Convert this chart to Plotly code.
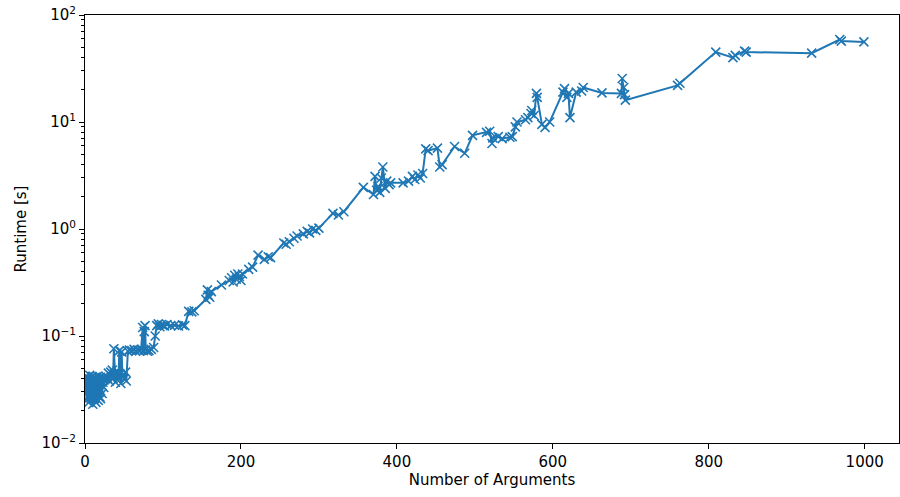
import plotly.graph_objects as go

n_args = [
    1, 1, 2, 2, 3, 3, 4, 4, 5, 5, 6, 6, 7, 7, 8, 8, 9, 9, 10, 10,
    11, 11, 12, 12, 13, 13, 14, 14, 15, 15, 16, 16, 17, 17, 18, 18, 19, 19, 20, 20,
    21, 22, 22, 23, 24, 24, 25,
    27, 29, 30, 31, 33, 34, 35, 36, 37, 38, 39, 40, 41, 42, 43, 44, 45, 46, 47, 48,
    50, 52, 53, 55, 57, 60, 63, 65, 68, 70, 72, 74, 75, 76, 77, 78, 80, 82, 85, 88,
    90, 92, 94, 96, 98, 100, 102, 105, 110, 115, 120, 125, 128, 133, 137, 140,
    155, 157, 158, 160, 162, 175, 185, 188, 190, 192, 194, 196, 198, 200, 202,
    210, 215, 222, 230, 235, 238, 255, 258, 262, 268, 272, 280, 285, 288, 292, 296, 300,
    318, 325, 332, 357, 370, 372, 374, 376, 378, 380, 382, 385, 387, 390, 392,
    408, 415, 420, 423, 427, 430, 433, 437, 440, 452, 455, 458, 474, 487, 497,
    515, 519, 522, 523, 530, 535, 545, 548, 552, 554, 565, 568, 572, 573, 576, 579, 580,
    586, 590, 596, 613, 615, 618, 620, 622, 630, 637, 639, 663, 688, 689, 691, 692, 693,
    760, 763, 809, 831, 834, 846, 848, 932, 968, 970, 999,
]

runtime = [
    0.030, 0.042, 0.025, 0.038, 0.033, 0.041, 0.027, 0.036, 0.040, 0.024,
    0.031, 0.043, 0.028, 0.037, 0.039, 0.026, 0.034, 0.042, 0.029, 0.023,
    0.040, 0.032, 0.026, 0.038, 0.041, 0.030, 0.024, 0.036, 0.039, 0.028,
    0.033, 0.042, 0.025, 0.037, 0.040, 0.031, 0.027, 0.038, 0.041, 0.026,
    0.035, 0.040, 0.029, 0.037, 0.041, 0.033, 0.039,
    0.042, 0.040, 0.045, 0.038, 0.046, 0.042, 0.048, 0.040, 0.076, 0.045,
    0.037, 0.044, 0.047, 0.039, 0.041, 0.073, 0.044, 0.036, 0.071, 0.042,
    0.040, 0.046, 0.038, 0.072, 0.074, 0.073, 0.075, 0.072, 0.074, 0.073,
    0.075, 0.120, 0.073, 0.110, 0.125, 0.074, 0.072, 0.073, 0.075, 0.078,
    0.100, 0.125, 0.130, 0.122, 0.128, 0.126, 0.124, 0.128, 0.125, 0.126,
    0.124, 0.127, 0.125, 0.170, 0.168, 0.172,
    0.22, 0.27, 0.24, 0.23, 0.26, 0.30, 0.33, 0.35, 0.32, 0.37, 0.34, 0.38,
    0.36, 0.33, 0.38,
    0.42, 0.44, 0.57, 0.52, 0.55, 0.54, 0.74, 0.72, 0.76, 0.82, 0.86, 0.90,
    0.95, 0.92, 1.00, 0.97, 1.02,
    1.40, 1.35, 1.45, 2.45, 2.10, 3.10, 2.30, 2.50, 2.20, 3.00, 3.80, 2.40,
    2.80, 2.60, 2.70,
    2.70, 2.80, 3.10, 2.90, 3.20, 3.00, 3.30, 5.60, 5.40, 5.70, 3.80, 4.00,
    5.90, 5.10, 7.50,
    8.00, 8.20, 6.30, 7.10, 7.30, 7.00, 7.20, 7.30, 9.00, 10.0, 10.5, 11.0,
    12.0, 12.8, 11.5, 18.5, 17.0,
    9.5, 8.9, 10.0, 19.0, 20.5, 17.0, 18.5, 11.0, 19.0, 19.5, 21.0, 18.7,
    18.5, 25.5, 21.0, 18.0, 16.0,
    22.0, 23.0, 45.0, 40.0, 42.0, 46.0, 45.0, 44.0, 59.0, 57.0, 56.0,
]

x_ticks = [0, 200, 400, 600, 800, 1000]
y_ticks = [0.01, 0.1, 1, 10, 100]
y_tick_text = ["10<sup>−2</sup>", "10<sup>−1</sup>", "10<sup>0</sup>", "10<sup>1</sup>", "10<sup>2</sup>"]

minor_vals = [m * d for d in (0.01, 0.1, 1, 10) for m in range(2, 10)]

color = "#1f77b4"
font = dict(family="DejaVu Sans", size=15, color="black")

fig = go.Figure()
fig.add_trace(go.Scatter(
    x=n_args, y=runtime, mode="lines+markers",
    line=dict(color=color, width=2),
    marker=dict(symbol="x-thin", size=9, color=color, line=dict(color=color, width=1.6)),
    showlegend=False,
))

fig.update_layout(
    width=900, height=497,
    margin=dict(l=85, r=1, t=15, b=54, autoexpand=False),
    paper_bgcolor="white", plot_bgcolor="white",
    font=font,
)
fig.update_xaxes(
    range=[0, 1044], tickvals=x_ticks, ticks="outside", ticklen=5, tickwidth=1,
    tickcolor="black", showline=True, linecolor="black", linewidth=1, mirror=True,
    showgrid=False, zeroline=False, automargin=False, ticklabeloverflow="allow",
    title=dict(text="Number of Arguments", font=font, standoff=3),
)
fig.update_yaxes(
    type="log", range=[-2, 2], tickvals=y_ticks, ticktext=y_tick_text,
    ticks="outside", ticklen=5, tickwidth=1, tickcolor="black",
    minor=dict(tickvals=minor_vals, ticks="outside", ticklen=3, tickcolor="black", tickwidth=0.8, showgrid=False),
    showline=True, linecolor="black", linewidth=1, mirror=True,
    showgrid=False, zeroline=False, automargin=False, ticklabeloverflow="allow",
    title=dict(text="Runtime [s]", font=font, standoff=11),
)

fig.write_html(
    "out.html",
    config={"displayModeBar": False},
    post_script="document.body.style.margin='0';document.body.style.overflow='hidden';",
)
